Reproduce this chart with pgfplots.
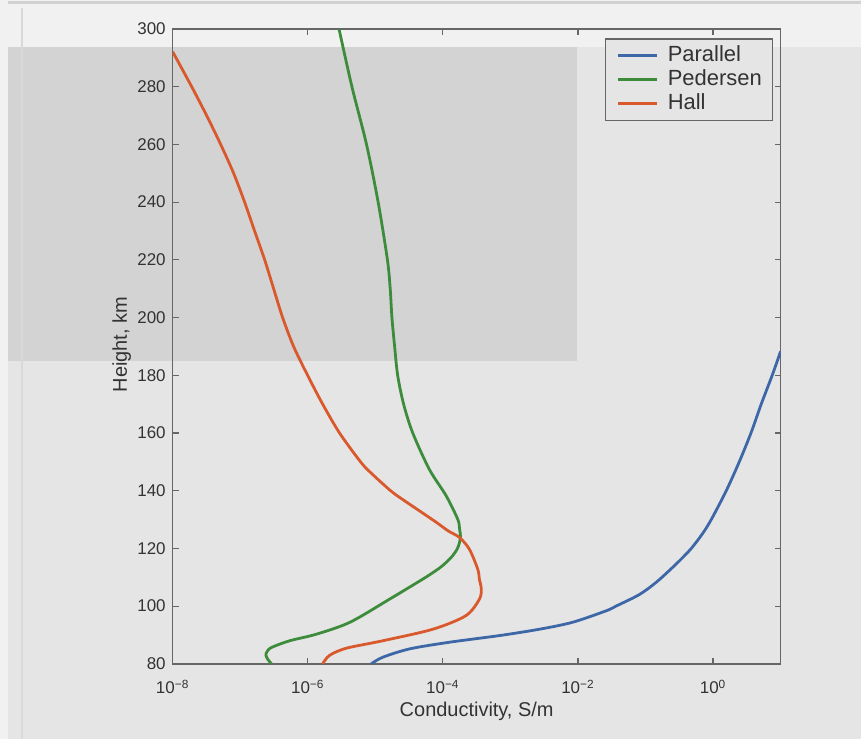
\documentclass[border=0pt]{standalone}
\usepackage{pgfplots}
\pgfplotsset{compat=1.18}
\usepackage{fontspec}
\setmainfont{Liberation Sans}

\definecolor{pagebg}{HTML}{E5E5E5}
\definecolor{stripbg}{HTML}{F1F1F1}
\definecolor{slidegray}{HTML}{D3D3D3}
\definecolor{axisgray}{HTML}{666666}
\definecolor{txt}{HTML}{333333}
\definecolor{cpar}{HTML}{3E67A8}
\definecolor{cped}{HTML}{3C8C3C}
\definecolor{chall}{HTML}{D9592D}

\begin{document}
\begin{tikzpicture}
% slide background
\fill[pagebg] (0pt,0pt) rectangle (431pt,370pt);
\fill[stripbg] (0pt,346.5pt) rectangle (431pt,370pt);
\fill[stripbg] (0pt,0pt) rectangle (4pt,346.5pt);
\draw[line width=1.5pt, color=black!18] (4pt,368.5pt) -- (431pt,368.5pt);
\fill[slidegray] (4pt,189pt) rectangle (289pt,346.5pt);
\draw[line width=0.6pt, color=black!15] (11pt,0pt) -- (11pt,366pt);

\begin{axis}[
  at={(86.5pt,37.5pt)}, anchor=south west,
  scale only axis, width=304.5pt, height=318pt,
  xmode=log, xmin=1e-8, xmax=10,
  ymin=80, ymax=300,
  xtick={1e-8,1e-6,1e-4,1e-2,1},
  xticklabels={10\textsuperscript{−8},10\textsuperscript{−6},10\textsuperscript{−4},10\textsuperscript{−2},10\textsuperscript{0}},
  xminorticks=false,
  ytick={80,100,...,300},
  /pgf/number format/assume math mode=true,
  tick align=inside,
  major tick length=3pt,
  axis line style={draw=axisgray, line width=0.75pt},
  every tick/.style={draw=axisgray, line width=0.6pt},
  tick label style={font=\fontsize{8.5}{10}\selectfont, text=txt},
  xticklabel style={yshift=-4.5pt},
  label style={font=\fontsize{10}{12}\selectfont, text=txt},
  xlabel={Conductivity, S/m},
  ylabel={Height, km},
  xlabel style={at={(axis description cs:0.5,-0.0755)}, anchor=center},
  ylabel style={at={(axis description cs:-0.084,0.503)}, anchor=center},
  legend style={at={(0.988,0.985)}, anchor=north east,
    draw=axisgray, line width=0.6pt, fill=pagebg,
    font=\fontsize{11}{12}\selectfont, text=txt,
    inner xsep=5.5pt, inner ysep=2.3pt, row sep=0pt,
    nodes={inner xsep=0pt, inner ysep=1pt, text height=8pt, text depth=2pt},
    /tikz/every odd column/.append style={column sep=4.8pt}},
  legend cell align=left,
  legend image code/.code={\draw[#1, line width=1.4pt] (0pt,0pt) -- (19.5pt,0pt);},
  every axis plot/.append style={line width=1.4pt, smooth, tension=0.5},
]
% parallel conductivity
\addplot[cpar] coordinates {
  (8.7e-6,80) (1.29e-5,82.3) (3.24e-5,85.2) (1.26e-4,87.5) (6.9e-4,89.8)
  (2.69e-3,92) (8.3e-3,94.4) (2.63e-2,98.4) (3.66e-2,100) (8.09e-2,104)
  (0.1396,108) (0.217,112) (0.327,116) (0.476,120) (0.692,125)
  (0.940,130) (1.567,140) (2.44,150) (3.64,160) (5.16,170)
  (7.51,180) (10.0,188.3)
};
\addlegendentry{Parallel}
% Pedersen conductivity
\addplot[cped] coordinates {
  (2.9e-7,80) (2.57e-7,81.5) (2.4e-7,83) (2.5e-7,84.3) (2.92e-7,85.7)
  (5.4e-7,88) (1.35e-6,90.3) (4.2e-6,94.4) (1.62e-5,102.4) (4.99e-5,109.3)
  (7.52e-5,112) (9.86e-5,114) (1.34e-4,117) (1.62e-4,119.7) (1.76e-4,122)
  (1.82e-4,124.3) (1.76e-4,127) (1.66e-4,130.1) (1.12e-4,138.2) (6.3e-5,147.4)
  (3.58e-5,160) (2.62e-5,170) (2.14e-5,180) (1.93e-5,190) (1.76e-5,200)
  (1.66e-5,210) (1.51e-5,220) (1.10e-5,240) (7.4e-6,260) (4.5e-6,280)
  (2.9e-6,300)
};
\addlegendentry{Pedersen}
% Hall conductivity
\addplot[chall] coordinates {
  (1.66e-6,80) (2.09e-6,82.9) (3.7e-6,85.4) (1.29e-5,88) (7.1e-5,92)
  (2.19e-4,96.7) (3.47e-4,102.4) (3.7e-4,106) (3.47e-4,109.3) (3.28e-4,112.8)
  (2.47e-4,119.7) (1.76e-4,123.8) (1.21e-4,126) (8.04e-5,129) (4.51e-5,133)
  (2.52e-5,137) (1.68e-5,140) (8.49e-6,146.3) (6.04e-6,150) (2.95e-6,160)
  (1.66e-6,170) (9.93e-7,180) (6.16e-7,190) (4.24e-7,200) (3.12e-7,210)
  (2.30e-7,220) (1.63e-7,230) (1.16e-7,240) (7.98e-8,250) (5.13e-8,260)
  (3.18e-8,270) (1.91e-8,280) (1.0e-8,292.1)
};
\addlegendentry{Hall}
\end{axis}
\end{tikzpicture}
\end{document}
